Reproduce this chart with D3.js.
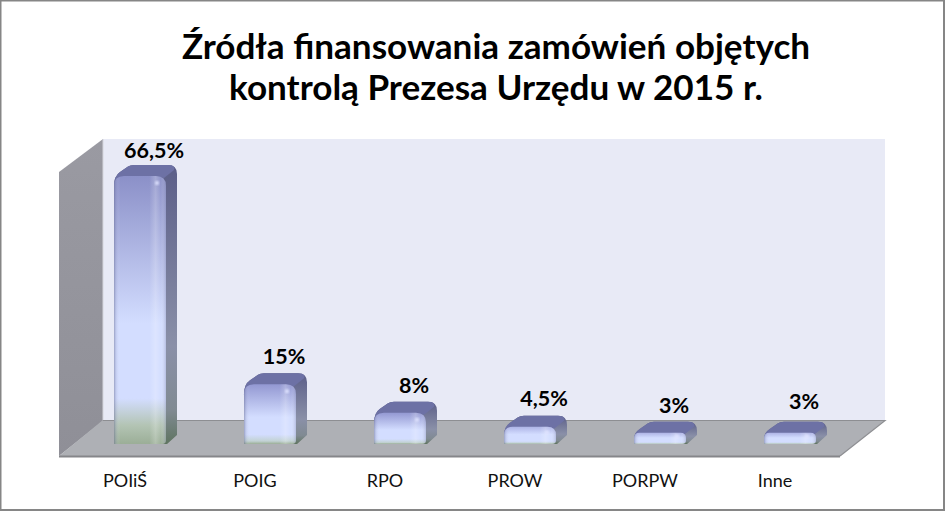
<!DOCTYPE html>
<html>
<head>
<meta charset="utf-8">
<script src="https://cdn.jsdelivr.net/npm/d3@7"></script>
<style>
  html, body { margin: 0; padding: 0; background: #fff; }
  svg { display: block; }
  .axis text { font-family: Lato, "Open Sans", sans-serif; font-size: 18px; fill: #111; }
  .title { font-family: Lato, "Open Sans", sans-serif; font-weight: 700; font-size: 35.1px; fill: #000; text-anchor: middle; }
  .val { font-family: Lato, "Open Sans", sans-serif; font-weight: 700; font-size: 21.5px; fill: #000; text-anchor: middle; }
</style>
</head>
<body>
<svg width="945" height="511"></svg>
<script>
const categories = ['POIiŚ', 'POIG', 'RPO', 'PROW', 'PORPW', 'Inne'];
const values = [66.5, 15, 8, 4.5, 3, 3];
const valueLabels = ['66,5%', '15%', '8%', '4,5%', '3%', '3%'];
const titleLines = ['Źródła finansowania zamówień objętych', 'kontrolą Prezesa Urzędu w 2015 r.'];

const svg = d3.select('svg');
const defs = svg.append('defs');

// glebokosc slupka 3D
const depth = { x: 11, top: 11, bottom: 9 };
const baseY = 444;

// skale
const x = d3.scaleBand().domain(categories).range([75, 855]).paddingInner(0.6).paddingOuter(0.3);
const y = d3.scaleLinear().domain([0, 66.5]).range([434, 165]);

const addGradient = (id, stops, horizontal) => {
    const g = defs.append('linearGradient').attr('id', id)
        .attr('x1', 0).attr('y1', 0)
        .attr('x2', horizontal ? 1 : 0).attr('y2', horizontal ? 0 : 1);
    stops.forEach(s => g.append('stop').attr('offset', s[0]).attr('stop-color', s[1]).attr('stop-opacity', s[2] === undefined ? 1 : s[2]));
};

addGradient('wall-left', [[0, '#9a9aa2'], [1, '#8f8f97']]);
addGradient('bevel', [
    [0, '#5f6488', 0.5], [0.04, '#8a90b8', 0.22], [0.12, '#ffffff', 0], [0.68, '#ffffff', 0],
    [0.8, '#ffffff', 0.22], [0.9, '#ffffff', 0.03], [1, '#7d82a8', 0.35]
], true);
defs.append('filter').attr('id', 'soft').append('feGaussianBlur').attr('stdDeviation', 0.5);
defs.append('filter').attr('id', 'glow').append('feGaussianBlur').attr('stdDeviation', 1.2);

// ramka
svg.append('rect').attr('x', 0.5).attr('y', 0.5).attr('width', 943.5).attr('height', 509.5)
    .attr('fill', '#fff').attr('stroke', '#868686').attr('stroke-width', 2);

// sciany i podloga
svg.append('rect').attr('x', 103).attr('y', 139).attr('width', 782).attr('height', 282).attr('fill', '#e8eaf6');
svg.append('path').attr('d', 'M59,172L103,139L103,421L59,456Z').attr('fill', 'url(#wall-left)');
svg.append('path').attr('d', 'M59,456L103,420L885,420L840,456Z').attr('fill', '#aeb0b5');
svg.append('path').attr('d', 'M103,420.5L885,420.5L840,456').attr('fill', 'none').attr('stroke', '#8d8e92').attr('stroke-width', 1.2);
svg.append('line').attr('x1', 59).attr('x2', 840).attr('y1', 456.5).attr('y2', 456.5).attr('stroke', '#85868a').attr('stroke-width', 2);
svg.append('line').attr('x1', 103).attr('x2', 103).attr('y1', 139).attr('y2', 420).attr('stroke', '#d4d5dc');

// slupki
const bars = svg.append('g').selectAll('g').data(categories).join('g');

bars.each(function (c, i) {
    const g = d3.select(this);
    const x0 = x(c), w = x.bandwidth(), x1 = x0 + w;
    const topY = y(values[i]);
    const frontY = topY + depth.top;
    const h = baseY - frontY;
    const r = Math.min(10, h / 2);
    const xb = x1 + depth.x;
    const tall = h > 100;

    // gradient zalezny od wysokosci slupka
    addGradient('front-' + i, [
        [0, tall ? '#8b90c8' : (h > 30 ? '#9398d2' : '#aeb4e6')],
        [h > 30 ? 0.55 : 0.45, '#d3ddff'],
        [tall ? 0.83 : 0.84, '#d3ddff'],
        [tall ? 0.93 : 0.95, tall ? '#b3c4b4' : '#c2d2d4'],
        [1, '#9bae97']
    ]);
    addGradient('side-' + i, [
        [0, '#5b5e88'],
        [0.65, '#8a90a8'],
        [0.88, '#808a92'],
        [1, '#5f7460']
    ]);

    // bryla: bok i gora
    const shell = `M${x0},${frontY + r}Q${x0},${frontY} ${x0 + 6},${frontY - 4}L${x0 + depth.x + 3},${topY + 1.5}Q${x0 + depth.x + 5},${topY} ${x0 + depth.x + 9},${topY}`;
    g.append('path')
        .attr('d', shell + `L${xb - 9},${topY}Q${xb},${topY} ${xb},${topY + 9}L${xb},${baseY - depth.bottom}L${x1 + 1},${baseY}L${x0},${baseY}Z`)
        .attr('fill', `url(#side-${i})`);

    // gorna sciana
    g.append('path')
        .attr('d', shell + `L${xb - 9},${topY}Q${xb - 1},${topY} ${xb - 3},${topY + 5}L${x1 - 2},${frontY + 2}L${x1 - 8},${frontY + 1}Z`)
        .attr('fill', '#6d71a5')
        .attr('filter', 'url(#soft)');

    // przednia sciana
    const front = `M${x0},${frontY + r}Q${x0},${frontY} ${x0 + r},${frontY}L${x1 - r},${frontY}Q${x1},${frontY} ${x1},${frontY + r}L${x1},${baseY - 4}Q${x1},${baseY} ${x1 - 4},${baseY}L${x0},${baseY}Z`;
    g.append('path').attr('d', front).attr('fill', `url(#front-${i})`);
    g.append('path').attr('d', front).attr('fill', 'url(#bevel)');

    // odblask
    g.append('circle').attr('cx', x1 - 9).attr('cy', frontY + Math.min(7, h / 3)).attr('r', 2)
        .attr('fill', '#dfe3ff').attr('filter', 'url(#glow)');
});

// etykiety wartosci
const labelNudge = [2, 0, 0, -1, 0, -4];
svg.append('g').selectAll('text').data(categories).join('text')
    .attr('class', 'val')
    .attr('x', (c) => x(c) + x.bandwidth() / 2 + 14)
    .attr('y', (c, i) => y(values[i]) - 9 + labelNudge[i])
    .text((c, i) => valueLabels[i]);

// os X - podpisy
const axisX = d3.axisBottom(x).tickSize(0).tickPadding(0);
svg.append('g').attr('class', 'axis')
    .attr('transform', 'translate(-15,474)')
    .call(axisX)
    .call(g => g.select('.domain').remove());

// tytul
svg.append('g').selectAll('text').data(titleLines).join('text')
    .attr('class', 'title')
    .attr('x', 496)
    .attr('y', (d, i) => 59 + i * 41)
    .text(d => d);
</script>
</body>
</html>
